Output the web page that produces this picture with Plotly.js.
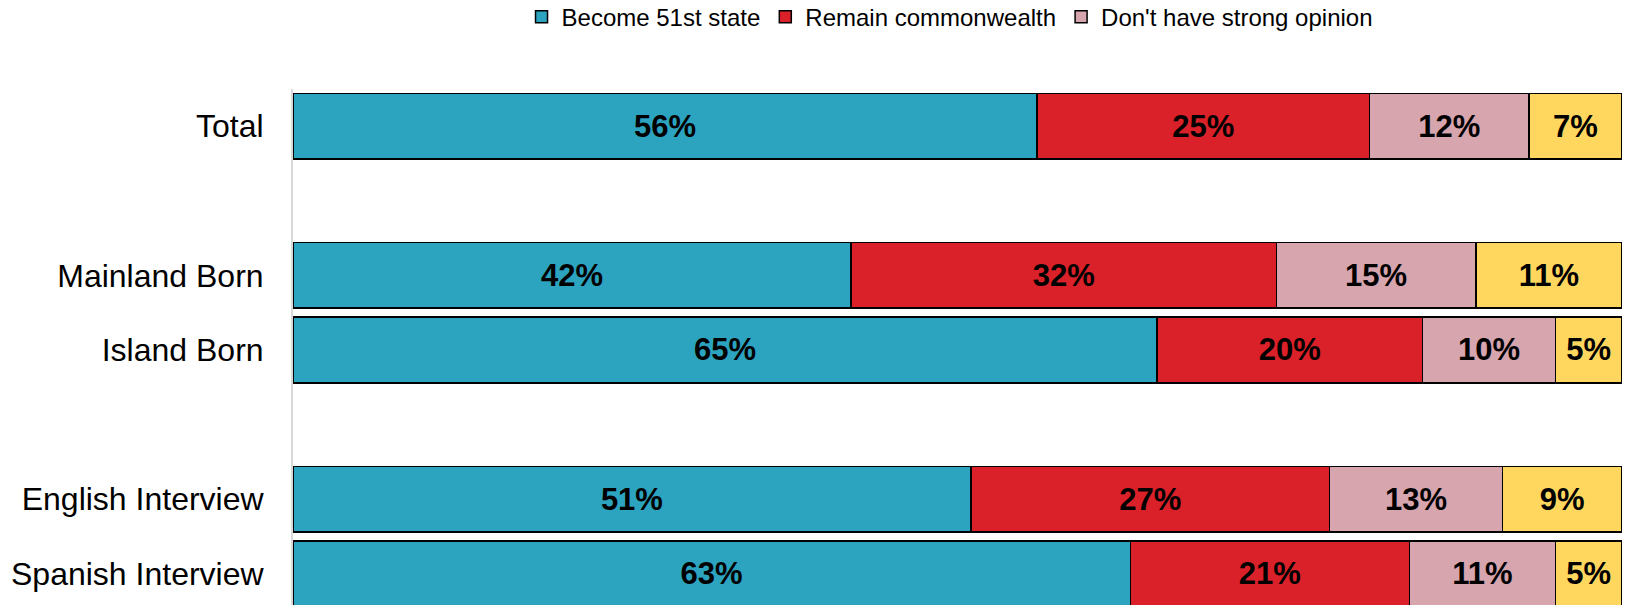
<!DOCTYPE html>
<html>
<head>
<meta charset="utf-8">
<script src="https://cdn.plot.ly/plotly-3.0.1.min.js"></script>
<style>html,body{margin:0;padding:0;background:#fff;}#chart{width:1625px;height:605px;}</style>
</head>
<body>
<div id="chart"></div>
<script>
// Categories (blank strings are spacer rows)
const categories = ["Total", " ", "Mainland Born", "Island Born", "  ", "English Interview", "Spanish Interview"];
const groups = ["Total", "Mainland Born", "Island Born", "English Interview", "Spanish Interview"];
const seriesNames = ["Become 51st state", "Remain commonwealth", "Don't have strong opinion", "No answer"];
const become51st = [56, 42, 65, 51, 63];
const remainCommonwealth = [25, 32, 20, 27, 21];
const noStrongOpinion = [12, 15, 10, 13, 11];
const other = [7, 11, 5, 9, 5];
const colors = ["#2CA3BF", "#DA2029", "#D6A5AE", "#FFD75F"];
const showInLegend = [true, true, true, false];

const FONT = "Liberation Sans, Arial, sans-serif";
const seriesValues = [become51st, remainCommonwealth, noStrongOpinion, other];

const traces = seriesValues.map((vals, i) => ({
  type: "bar",
  orientation: "h",
  name: seriesNames[i],
  y: groups,
  x: vals,
  showlegend: showInLegend[i],
  marker: {color: colors[i], line: {color: "#000", width: 1.5}},
  text: vals.map(v => v + "%"),
  textposition: "inside",
  insidetextanchor: "middle",
  textangle: 0,
  insidetextfont: {family: FONT, size: 31, color: "#000", weight: "bold"},
  hoverinfo: "skip"
}));

const layout = {
  width: 1625,
  height: 605,
  margin: {l: 293, r: 3, t: 89, b: 0, pad: 0, autoexpand: false},
  paper_bgcolor: "#fff",
  plot_bgcolor: "#fff",
  barmode: "stack",
  bargap: 0.12,
  font: {family: FONT, color: "#000"},
  xaxis: {range: [0, 100], visible: false, fixedrange: true},
  yaxis: {
    type: "category",
    categoryorder: "array",
    categoryarray: categories,
    range: [6.42, -0.5],
    showgrid: false,
    zeroline: false,
    showline: true,
    linecolor: "#d9d9d9",
    linewidth: 2,
    ticks: "",
    ticklabelstandoff: 21,
    tickfont: {family: FONT, size: 32, color: "#000"}
  },
  legend: {
    orientation: "h",
    x: 0.494,
    xanchor: "center",
    yref: "paper",
    y: 1.183,
    yanchor: "top",
    font: {family: FONT, size: 24, color: "#000"},
    traceorder: "normal"
  },
  showlegend: true
};

Plotly.newPlot("chart", traces, layout, {displayModeBar: false, staticPlot: true});
</script>
</body>
</html>
